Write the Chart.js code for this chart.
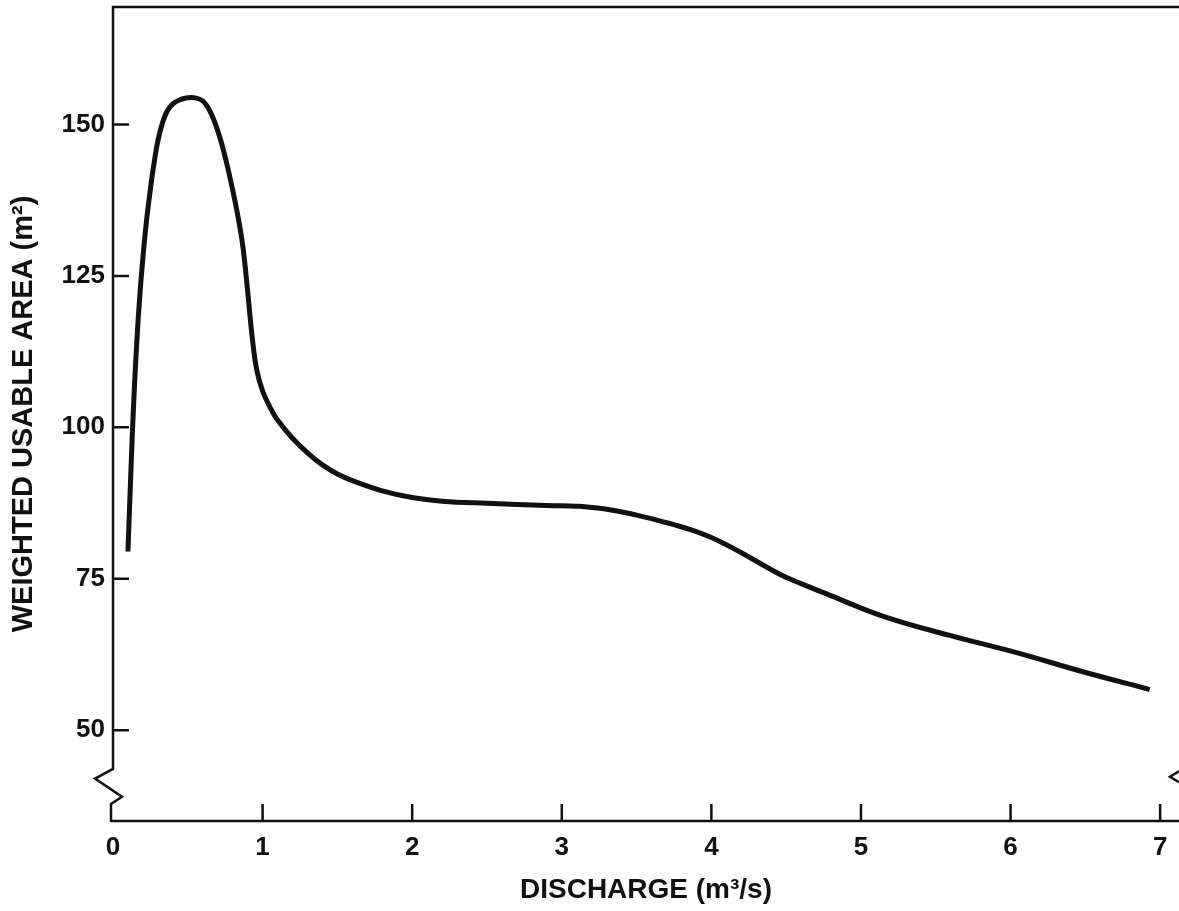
<!DOCTYPE html>
<html>
<head>
<meta charset="utf-8">
<title>Weighted usable area vs discharge</title>
<script src="https://cdn.jsdelivr.net/npm/chart.js@4"></script>
<style>
  html, body { margin: 0; padding: 0; background: #fff; overflow: hidden; }
  #wrap { width: 1179px; height: 911px; }
</style>
</head>
<body>
<div id="wrap"><canvas id="wua" width="1179" height="911"></canvas></div>
<script>
// discharge (m3/s) and weighted usable area (m2) along the curve
const discharge = [0.10, 0.12, 0.14, 0.16, 0.18, 0.20, 0.22, 0.24, 0.26, 0.28, 0.30, 0.33, 0.36, 0.40,
  0.45, 0.50, 0.55, 0.60, 0.64, 0.68, 0.72, 0.76, 0.80, 0.84, 0.87, 0.90, 0.93, 0.96, 1.0, 1.05,
  1.1, 1.2, 1.3, 1.4, 1.5, 1.6, 1.8, 2.0, 2.2, 2.5, 2.9, 3.12, 3.34, 3.5, 3.68, 3.85, 4.0, 4.2,
  4.46, 4.6, 4.77, 5.15, 5.6, 6.04, 6.49, 6.93];
const wua = [79.5, 93, 105, 114.5, 122, 128, 133.2, 137.4, 141.2, 144.5, 147.3, 150.2, 152.1, 153.4,
  154.1, 154.4, 154.4, 153.9, 152.6, 150.4, 147.4, 143.6, 139.2, 134.2, 129.5, 122.5, 115, 109.6, 106, 103.3,
  101.2, 98.2, 95.8, 93.8, 92.3, 91.2, 89.5, 88.4, 87.8, 87.45, 87.1, 86.95, 86.3, 85.5, 84.4, 83.2, 81.8, 79.3,
  75.7, 74.2, 72.5, 68.8, 65.6, 62.8, 59.6, 56.7];

const xTicks = [0, 1, 2, 3, 4, 5, 6, 7];
const yTicks = [50, 75, 100, 125, 150];

const ink = '#111';
const family = '"Liberation Sans", Arial, sans-serif';
const labelFont = { family, size: 26, weight: 'bold' };

// frame with a broken left axis, inward tick marks
const framePlugin = {
  id: 'frame',
  afterDraw(chart) {
    const { ctx, chartArea: a, scales } = chart;
    const xs = scales.x, ys = scales.y;
    ctx.save();
    ctx.strokeStyle = ink;
    ctx.lineWidth = 2.5;

    // top edge + left axis down to the break, zigzag, then bottom edge
    ctx.beginPath();
    ctx.moveTo(a.right, a.top);
    ctx.lineTo(a.left, a.top);
    ctx.lineTo(a.left, ys.getPixelForValue(43.6));
    ctx.lineTo(a.left - 18, ys.getPixelForValue(42.0));
    ctx.lineTo(a.left + 9, ys.getPixelForValue(39.0));
    ctx.lineTo(a.left - 2, ys.getPixelForValue(37.8));
    ctx.lineTo(a.left - 2, a.bottom);
    ctx.lineTo(a.right, a.bottom);
    ctx.stroke();

    // break mark on the right-hand side
    ctx.beginPath();
    ctx.moveTo(a.right, ys.getPixelForValue(43.2));
    ctx.lineTo(a.right - 9, ys.getPixelForValue(42.3));
    ctx.lineTo(a.right, ys.getPixelForValue(41.4));
    ctx.stroke();

    // tick marks point into the plot
    ctx.beginPath();
    yTicks.forEach(v => {
      const py = ys.getPixelForValue(v);
      ctx.moveTo(a.left, py);
      ctx.lineTo(a.left + 16, py);
    });
    xTicks.filter(v => v > 0).forEach(v => {
      const px = xs.getPixelForValue(v);
      ctx.moveTo(px, a.bottom);
      ctx.lineTo(px, a.bottom - 17);
    });
    ctx.stroke();
    ctx.restore();
  }
};

new Chart(document.getElementById('wua'), {
  type: 'line',
  data: {
    datasets: [{
      data: discharge.map((q, i) => ({ x: q, y: wua[i] })),
      borderColor: ink,
      borderWidth: 5,
      pointRadius: 0,
      tension: 0.4,
      fill: false
    }]
  },
  options: {
    responsive: false,
    devicePixelRatio: 1,
    animation: false,
    layout: { padding: { top: 7, right: 0, bottom: 0, left: 0 } },
    plugins: { legend: { display: false }, tooltip: { enabled: false } },
    scales: {
      x: {
        type: 'linear',
        min: 0,
        max: 7.126,
        afterBuildTicks: s => { s.ticks = xTicks.map(v => ({ value: v })); },
        afterFit: s => { s.height = 90; s.paddingLeft = 0; s.paddingRight = 0; },
        grid: { display: false, drawTicks: false },
        border: { display: false },
        ticks: { color: ink, font: labelFont, padding: 11, maxRotation: 0 },
        title: { display: true, text: 'DISCHARGE (m³/s)', color: ink, font: { family, size: 28, weight: 'bold' }, padding: { top: 0, bottom: 4 } }
      },
      y: {
        min: 35,
        max: 169.4,
        afterBuildTicks: s => { s.ticks = yTicks.map(v => ({ value: v })); },
        afterFit: s => { s.width = 113; s.paddingTop = 0; s.paddingBottom = 0; },
        grid: { display: false, drawTicks: false },
        border: { display: false },
        ticks: { color: ink, font: labelFont, padding: 8 },
        title: { display: true, text: 'WEIGHTED USABLE AREA (m²)', color: ink, font: { family, size: 29, weight: 'bold' }, padding: { top: 7, bottom: 0 } }
      }
    }
  },
  plugins: [framePlugin]
});
</script>
</body>
</html>
